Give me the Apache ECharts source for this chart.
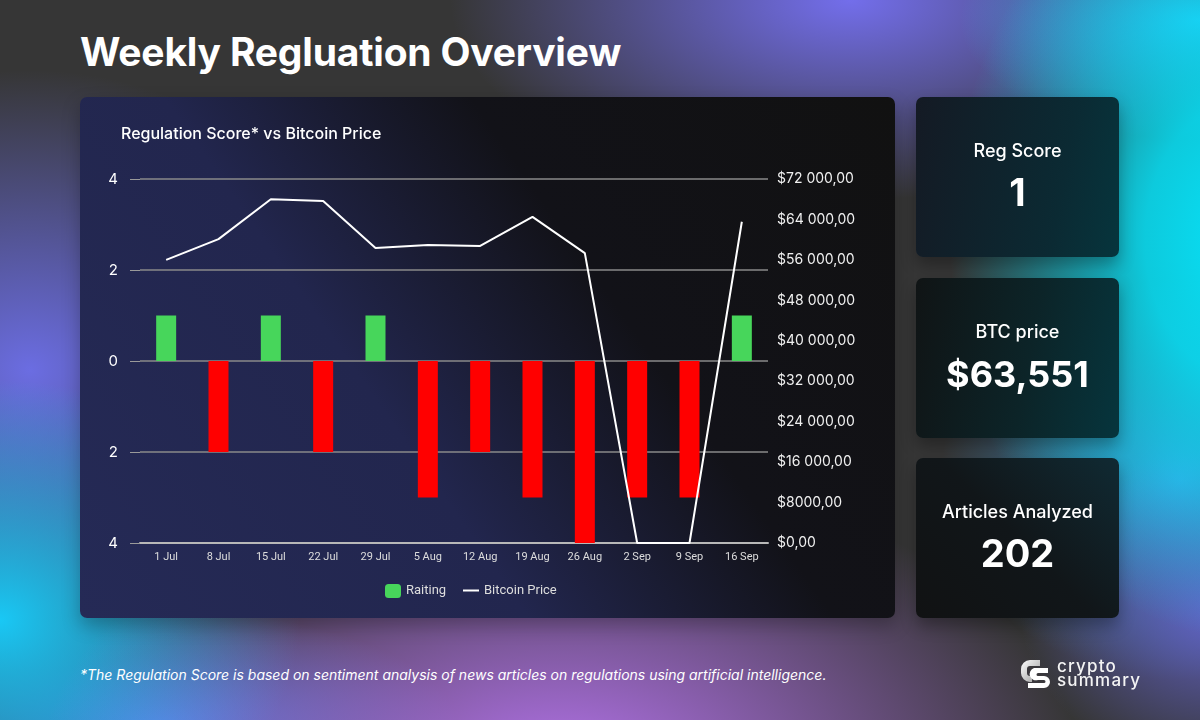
<!DOCTYPE html>
<html>
<head>
<meta charset="utf-8">
<script src="https://cdn.jsdelivr.net/npm/echarts@6/dist/echarts.min.js"></script>
<style>
  html, body { margin: 0; padding: 0; }
  body {
    width: 1200px; height: 720px; position: relative; overflow: hidden;
    font-family: "Inter", "Lato", sans-serif; color: #fff;
    background:
      radial-gradient(ellipse 300px 400px at 1250px 240px, rgba(6,228,250,1) 0%, rgba(6,228,250,0.85) 35%, rgba(6,228,250,0) 100%),
      radial-gradient(ellipse 240px 120px at 1200px 20px, rgba(40,200,250,0.9), rgba(40,200,250,0) 100%),
      radial-gradient(ellipse 520px 300px at 560px 770px, rgba(180,115,235,1), rgba(180,115,235,0) 100%),
      radial-gradient(ellipse 300px 240px at 0px 620px, rgba(25,200,245,1), rgba(25,200,245,0) 100%),
      radial-gradient(ellipse 340px 300px at 30px 370px, rgba(110,112,235,0.95), rgba(110,112,235,0) 100%),
      radial-gradient(ellipse 400px 200px at 850px 0px, rgba(115,110,235,1), rgba(115,110,235,0) 100%),
      radial-gradient(ellipse 200px 160px at 1220px 610px, rgba(100,100,205,0.95), rgba(100,100,205,0) 100%),
      radial-gradient(ellipse 240px 200px at 1180px 480px, rgba(60,160,230,0.9), rgba(60,160,230,0) 100%),
      radial-gradient(ellipse 300px 120px at 160px 730px, rgba(70,130,240,0.9), rgba(70,130,240,0) 100%),
      #363636;
  }
  .title {
    position: absolute; left: 80px; top: 28px; font-size: 39px; font-weight: 700;
    letter-spacing: -0.2px;
  }
  .card {
    position: absolute; left: 80px; top: 97px; width: 815px; height: 521px; border-radius: 7px;
    background:
      linear-gradient(55deg, #252a56 0%, #22264e 38%, #121218 64%, #111111 100%);
    box-shadow: 0 8px 18px rgba(0,0,0,0.25);
  }
  #chart { position: absolute; left: 80px; top: 97px; width: 815px; height: 521px; }
  .kpi {
    position: absolute; left: 916px; width: 203px; height: 160px; border-radius: 7px;
    text-align: center; box-shadow: 0 8px 16px rgba(0,0,0,0.3);
  }
  .kpi .lab { position: absolute; left: 0; right: 0; top: 43px; font-size: 18px; font-weight: 500; }
  .kpi .val { position: absolute; left: 0; right: 0; top: 72px; font-size: 38px; font-weight: 700; }
  .k2 .val { font-size: 36px; top: 74px; }
  .k1 { top: 97px; background: linear-gradient(100deg, #141a24 0%, #0b2a33 70%, #06353d 100%); }
  .k2 { top: 278px; background: linear-gradient(100deg, #101415 0%, #0c2428 55%, #06353d 100%); }
  .k3 { top: 458px; height: 160px; background: linear-gradient(225deg, #102a33 0%, #111619 50%, #111213 100%); }
  .foot {
    position: absolute; left: 80px; top: 666px; font-size: 14px; font-style: italic; color: #fff;
  }
  .logo { position: absolute; left: 1018px; top: 656px; width: 140px; height: 36px; }
  .logo .t { position: absolute; left: 39px; font-size: 17px; font-weight: 500; line-height: 14px; letter-spacing: 1.2px; color: #f4f4f4; }
</style>
</head>
<body>
<div class="title">Weekly Regluation Overview</div>
<div class="card"></div>
<div id="chart"></div>

<div class="kpi k1"><div class="lab">Reg Score</div><div class="val" id="v1"></div></div>
<div class="kpi k2"><div class="lab">BTC price</div><div class="val" id="v2"></div></div>
<div class="kpi k3"><div class="lab">Articles Analyzed</div><div class="val" id="v3"></div></div>

<div class="foot">*The Regulation Score is based on sentiment analysis of news articles on regulations using artificial intelligence.</div>

<div class="logo">
  <svg width="36" height="36" viewBox="0 0 36 36" style="position:absolute;left:0;top:0">
    <defs>
      <linearGradient id="lg" x1="0" y1="0" x2="1" y2="1">
        <stop offset="0" stop-color="#ffffff"/><stop offset="1" stop-color="#9a9a9a"/>
      </linearGradient>
    </defs>
    <path d="M22 4 H12 A9 9 0 0 0 3 13 V17 A9 9 0 0 0 12 26 H14 V20 H12 A3 3 0 0 1 9 17 V13 A3 3 0 0 1 12 10 H22 Z" fill="url(#lg)"/>
    <path d="M16 12 H30 V17 H20 A1.5 1.5 0 0 0 20 20 H26 A6 6 0 0 1 26 32 H10 V27 H26 A1.5 1.5 0 0 0 26 24 H20 A6 6 0 0 1 16 12 Z" fill="#ffffff"/>
  </svg>
  <div class="t" style="top:3px">crypto</div>
  <div class="t" style="top:17px">summary</div>
</div>

<script>
// ---- data ----
const weeks = ['1 Jul','8 Jul','15 Jul','22 Jul','29 Jul','5 Aug','12 Aug','19 Aug','26 Aug','2 Sep','9 Sep','16 Sep'];
const scores = [1, -2, 1, -2, 1, -3, -2, -3, -4, -3, -3, 1];
const btcPrice = [56000, 60100, 68000, 67650, 58350, 58950, 58750, 64500, 57350, 0, 0, 63551];
const seriesNames = ['Raiting', 'Bitcoin Price'];
const kpiRegScore = 1;
const kpiBtcPrice = 63551;
const kpiArticles = 202;

document.getElementById('v1').textContent = String(kpiRegScore);
document.getElementById('v2').textContent = '$' + kpiBtcPrice.toLocaleString('en-US');
document.getElementById('v3').textContent = String(kpiArticles);

const GREEN = '#47d65b', RED = '#ff0000';
function fmtPrice(v) {
  let s = String(Math.round(v));
  if (v >= 10000) s = s.replace(/\B(?=(\d{3})+(?!\d))/g, ' ');
  return '$' + s + ',00';
}

const legendText = { color: '#dddddd', fontSize: 13, fontFamily: 'Roboto, sans-serif' };
const chart = echarts.init(document.getElementById('chart'), null, { renderer: 'canvas' });
chart.setOption({
  backgroundColor: 'transparent',
  textStyle: { fontFamily: 'Inter, Lato, sans-serif' },
  title: {
    text: 'Regulation Score* vs Bitcoin Price',
    left: 36, top: 24,
    textStyle: { color: '#ffffff', fontSize: 16, fontWeight: 500, fontFamily: 'Inter, sans-serif' }
  },
  legend: [{
    top: 482, left: 300,
    itemWidth: 16, itemHeight: 14, itemGap: 12,
    textStyle: legendText,
    data: [seriesNames[0]]
  }, {
    top: 482, left: 378,
    itemWidth: 16, itemHeight: 2,
    icon: 'rect',
    textStyle: legendText,
    data: [seriesNames[1]]
  }],
  grid: { left: 60, right: 127, top: 82, bottom: 75 },
  xAxis: {
    type: 'category', data: weeks,
    axisLine: { onZero: false, lineStyle: { color: '#b8b8b8', width: 2 } },
    axisTick: { alignWithLabel: true, length: 5, lineStyle: { color: '#cccccc' } },
    axisLabel: { color: '#dddddd', fontSize: 11, margin: 9, fontFamily: 'Roboto, sans-serif' }
  },
  yAxis: [{
    type: 'value', min: -4, max: 4, interval: 2,
    axisLine: { show: false },
    axisTick: { show: true, length: 10, lineStyle: { color: '#9a9a9a' } },
    axisLabel: { color: '#ffffff', fontSize: 15, margin: 22, formatter: v => String(Math.abs(v)) },
    splitLine: { lineStyle: { color: '#8a8a8a', width: 1.5 } }
  }, {
    type: 'value', min: 0, max: 72000, interval: 8000, position: 'right',
    axisLine: { show: false }, axisTick: { show: false },
    axisLabel: { color: '#f0f0f0', fontSize: 14, margin: 9, formatter: fmtPrice },
    splitLine: { show: false }
  }],
  series: [{
    name: seriesNames[0], type: 'bar', yAxisIndex: 0, barWidth: 20,
    itemStyle: { color: GREEN },
    data: scores.map(v => ({ value: v, itemStyle: { color: v < 0 ? RED : GREEN } })),
    z: 2
  }, {
    name: seriesNames[1], type: 'line', yAxisIndex: 1, data: btcPrice,
    symbol: 'none', lineStyle: { color: '#ffffff', width: 2 }, itemStyle: { color: '#ffffff' },
    z: 3
  }]
});
</script>
</body>
</html>
